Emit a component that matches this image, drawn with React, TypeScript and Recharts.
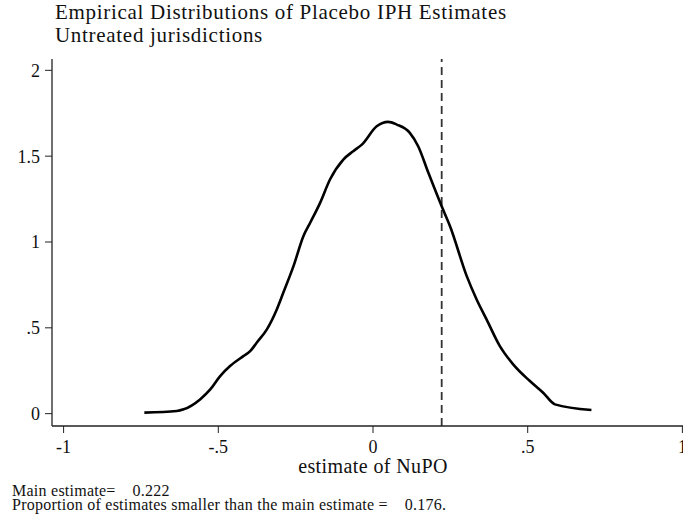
import React from 'react';
import { LineChart, Line, XAxis, YAxis, ReferenceLine } from 'recharts';

// kernel density
const estX = [-0.739, -0.634, -0.612, -0.559, -0.526, -0.494, -0.462, -0.419, -0.397, -0.376, -0.343, -0.311, -0.29, -0.257, -0.225, -0.203, -0.171, -0.139, -0.096, -0.064, -0.036, 0.012, 0.049, 0.077, 0.119, 0.146, 0.179, 0.222, 0.249, 0.303, 0.335, 0.367, 0.41, 0.453, 0.507, 0.55, 0.588, 0.706];
const density = [0.006, 0.015, 0.025, 0.083, 0.141, 0.219, 0.277, 0.335, 0.364, 0.413, 0.491, 0.607, 0.704, 0.859, 1.034, 1.112, 1.228, 1.364, 1.48, 1.529, 1.567, 1.674, 1.7, 1.684, 1.636, 1.558, 1.403, 1.208, 1.092, 0.801, 0.665, 0.549, 0.393, 0.287, 0.19, 0.122, 0.054, 0.021];

const xTicks = [-1, -0.5, 0, 0.5, 1];
const yTicks = [0, 0.5, 1, 1.5, 2];
const mainEstimate = 0.222;
const shareSmaller = 0.176;

const data = estX.map((x, i) => ({ x, y: density[i] }));

// stata style: drop the leading zero
const fmt = (v: number) => {
  const s = String(v);
  if (s.startsWith('0.')) return s.slice(1);
  if (s.startsWith('-0.')) return '-' + s.slice(2);
  return s;
};

const FONT = '"Liberation Serif", serif';
const tickStyle = { fill: '#111', fontSize: 18, fontFamily: FONT };

export default function App() {
  return (
    <div style={{ position: 'absolute', left: 0, top: 0, width: 683, height: 529, overflow: 'hidden', background: '#fff', fontFamily: FONT, color: '#111' }}>
      <div style={{ position: 'absolute', left: 55, top: 1, fontSize: 21, lineHeight: '23px', letterSpacing: 0.7, whiteSpace: 'nowrap' }}>
        <div>Empirical Distributions of Placebo IPH Estimates</div>
        <div>Untreated jurisdictions</div>
      </div>

      <div style={{ position: 'absolute', left: 0, top: 0 }}>
        <LineChart width={700} height={529} data={data} margin={{ top: 59, right: 6, left: 0, bottom: 43 }}>
          <XAxis
            xAxisId="top"
            orientation="top"
            type="number"
            dataKey="x"
            domain={[-1.0375, 1.0375]}
            height={0}
            tick={false}
            tickLine={false}
            axisLine={{ stroke: '#666', strokeWidth: 1.2 }}
          />
          <XAxis
            type="number"
            dataKey="x"
            domain={[-1.0375, 1.0375]}
            ticks={xTicks}
            tickFormatter={fmt}
            height={60}
            tickSize={7}
            tickMargin={7}
            tick={tickStyle}
            axisLine={{ stroke: '#222', strokeWidth: 1.3 }}
            tickLine={{ stroke: '#222' }}
          />
          <YAxis
            type="number"
            domain={[-0.072, 2.066]}
            ticks={yTicks}
            tickFormatter={fmt}
            width={52}
            tickSize={7}
            tickMargin={5}
            tick={tickStyle}
            axisLine={{ stroke: '#222', strokeWidth: 1.3 }}
            tickLine={{ stroke: '#222' }}
          />
          <ReferenceLine x={mainEstimate} stroke="#333" strokeWidth={1.8} strokeDasharray="8 5" />
          <Line
            type="monotone"
            dataKey="y"
            stroke="#000"
            strokeWidth={2.6}
            dot={false}
            isAnimationActive={false}
          />
        </LineChart>
      </div>

      <div style={{ position: 'absolute', left: 0, width: 746, top: 456, textAlign: 'center', fontSize: 20, lineHeight: '20px', letterSpacing: 0.4 }}>
        estimate of NuPO
      </div>

      <div style={{ position: 'absolute', left: 12, top: 484, fontSize: 16, lineHeight: '14px', letterSpacing: 0.25, whiteSpace: 'pre' }}>
        <div>{'Main estimate=    ' + mainEstimate.toFixed(3)}</div>
        <div>{'Proportion of estimates smaller than the main estimate =    ' + shareSmaller.toFixed(3) + '.'}</div>
      </div>
    </div>
  );
}
